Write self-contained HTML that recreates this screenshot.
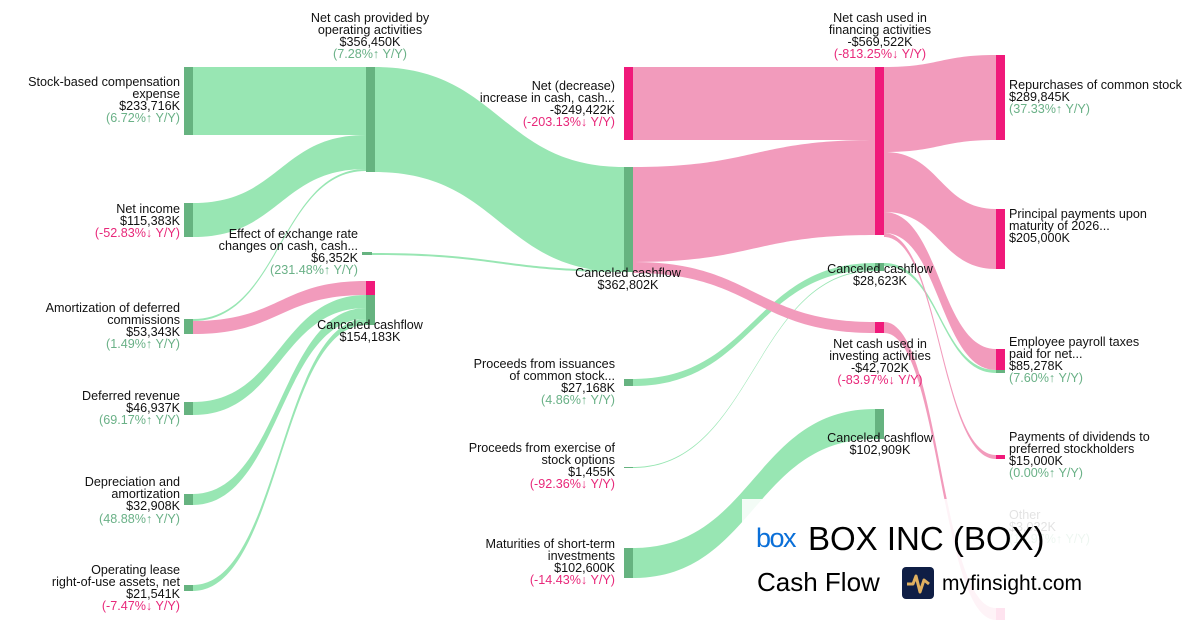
<!DOCTYPE html>
<html><head><meta charset="utf-8"><style>
html,body{margin:0;padding:0;background:#fff;}
svg{display:block;font-family:"Liberation Sans",Arial,sans-serif;}
text{font-size:12.6px;fill:#111;}
.g{fill:#6ab187;}
.p{fill:#e8287a;}
.m{text-anchor:middle;}
.e{text-anchor:end;}
</style></head><body>
<svg width="1200" height="630" viewBox="0 0 1200 630" xmlns="http://www.w3.org/2000/svg">
<g fill="#98e6b3">
<path d="M193,67 L366,67 L366,135 L193,135Z"/>
<path d="M193,203 C280,203 280,135 366,135 L366,169 C280,169 280,237 193,237Z"/>
<path d="M193,319 C280,319 280,169 366,169 L366,171 C280,171 280,321 193,321Z"/>
<path d="M193,402 C280,402 280,295 366,295 L366,308 C280,308 280,415 193,415Z"/>
<path d="M193,494 C280,494 280,308 366,308 L366,319 C280,319 280,505 193,505Z"/>
<path d="M193,585 C280,585 280,319 366,319 L366,325 C280,325 280,591 193,591Z"/>
<path d="M375,67 C500,67 500,167 624,167 L624,272 C500,272 500,172 375,172Z"/>
<path d="M372,253 C500,253 500,270 624,270 L624,272 C500,272 500,255 372,255Z"/>
<path d="M633,379 C754,379 754,263 875,263 L875,270 C754,270 754,386 633,386Z"/>
<path d="M633,467 C754,467 754,270 875,270 L875,271 C754,271 754,468 633,468Z"/>
<path d="M633,548 C754,548 754,409 875,409 L875,439 C754,439 754,578 633,578Z"/>
<path d="M884,263 C940,263 940,370 996,370 L996,373 C940,373 940,266 884,266Z"/>
</g>
<g fill="#f29bbc">
<path d="M193,321 C280,321 280,281 366,281 L366,295 C280,295 280,334 193,334Z"/>
<path d="M633,67 L875,67 L875,140 L633,140Z"/>
<path d="M633,167 C754,167 754,140 875,140 L875,235 C754,235 754,262 633,262Z"/>
<path d="M633,262 C754,262 754,322 875,322 L875,333 C754,333 754,273 633,273Z"/>
<path d="M884,67 C940,67 940,55 996,55 L996,140 C940,140 940,152 884,152Z"/>
<path d="M884,152 C940,152 940,209 996,209 L996,269 C940,269 940,212 884,212Z"/>
<path d="M884,212 C940,212 940,349 996,349 L996,370 C940,370 940,233 884,233Z"/>
<path d="M884,233 C940,233 940,455 996,455 L996,459 C940,459 940,237 884,237Z"/>
<path d="M884,322 C940,322 940,608 996,608 L996,620 C940,620 940,333 884,333Z"/>
</g>
<g fill="#66b380">
<rect x="184" y="67" width="9" height="68"/>
<rect x="184" y="203" width="9" height="34"/>
<rect x="184" y="319" width="9" height="15"/>
<rect x="184" y="402" width="9" height="13"/>
<rect x="184" y="494" width="9" height="11"/>
<rect x="184" y="585" width="9" height="6"/>
<rect x="366" y="67" width="9" height="105"/>
<rect x="362" y="252" width="10" height="3"/>
<rect x="366" y="295" width="9" height="30"/>
<rect x="624" y="167" width="9" height="105"/>
<rect x="624" y="379" width="9" height="7"/>
<rect x="624" y="467" width="9" height="1"/>
<rect x="624" y="548" width="9" height="30"/>
<rect x="875" y="263" width="9" height="8"/>
<rect x="875" y="409" width="9" height="30"/>
<rect x="996" y="370" width="9" height="3"/>
</g>
<g fill="#f0197a">
<rect x="366" y="281" width="9" height="14"/>
<rect x="624" y="67" width="9" height="73"/>
<rect x="875" y="67" width="9" height="168"/>
<rect x="875" y="322" width="9" height="11"/>
<rect x="996" y="55" width="9" height="85"/>
<rect x="996" y="209" width="9" height="60"/>
<rect x="996" y="349" width="9" height="21"/>
<rect x="996" y="455" width="9" height="4"/>
<rect x="996" y="608" width="9" height="12"/>
</g>
<g class="e">
<text x="180" y="86">Stock-based compensation</text><text x="180" y="98">expense</text><text x="180" y="110">$233,716K</text><text x="180" y="122" class="g">(6.72%↑ Y/Y)</text>
<text x="180" y="213">Net income</text><text x="180" y="225">$115,383K</text><text x="180" y="237" class="p">(-52.83%↓ Y/Y)</text>
<text x="180" y="312">Amortization of deferred</text><text x="180" y="324">commissions</text><text x="180" y="336">$53,343K</text><text x="180" y="348" class="g">(1.49%↑ Y/Y)</text>
<text x="180" y="400">Deferred revenue</text><text x="180" y="412">$46,937K</text><text x="180" y="424" class="g">(69.17%↑ Y/Y)</text>
<text x="180" y="486">Depreciation and</text><text x="180" y="498">amortization</text><text x="180" y="510">$32,908K</text><text x="180" y="523" class="g">(48.88%↑ Y/Y)</text>
<text x="180" y="574">Operating lease</text><text x="180" y="586">right-of-use assets, net</text><text x="180" y="598">$21,541K</text><text x="180" y="610" class="p">(-7.47%↓ Y/Y)</text>
<text x="358" y="238">Effect of exchange rate</text><text x="358" y="250">changes on cash, cash...</text><text x="358" y="262">$6,352K</text><text x="358" y="274" class="g">(231.48%↑ Y/Y)</text>
<text x="615" y="90">Net (decrease)</text><text x="615" y="102">increase in cash, cash...</text><text x="615" y="114">-$249,422K</text><text x="615" y="126" class="p">(-203.13%↓ Y/Y)</text>
<text x="615" y="368">Proceeds from issuances</text><text x="615" y="380">of common stock...</text><text x="615" y="392">$27,168K</text><text x="615" y="404" class="g">(4.86%↑ Y/Y)</text>
<text x="615" y="452">Proceeds from exercise of</text><text x="615" y="464">stock options</text><text x="615" y="476">$1,455K</text><text x="615" y="488" class="p">(-92.36%↓ Y/Y)</text>
<text x="615" y="548">Maturities of short-term</text><text x="615" y="560">investments</text><text x="615" y="572">$102,600K</text><text x="615" y="584" class="p">(-14.43%↓ Y/Y)</text>
</g>
<g class="m">
<text x="370" y="22">Net cash provided by</text><text x="370" y="34">operating activities</text><text x="370" y="46">$356,450K</text><text x="370" y="58" class="g">(7.28%↑ Y/Y)</text>
<text x="370" y="329">Canceled cashflow</text><text x="370" y="341">$154,183K</text>
<text x="628" y="277">Canceled cashflow</text><text x="628" y="289">$362,802K</text>
<text x="880" y="22">Net cash used in</text><text x="880" y="34">financing activities</text><text x="880" y="46">-$569,522K</text><text x="880" y="58" class="p">(-813.25%↓ Y/Y)</text>
<text x="880" y="273">Canceled cashflow</text><text x="880" y="285">$28,623K</text>
<text x="880" y="348">Net cash used in</text><text x="880" y="360">investing activities</text><text x="880" y="372">-$42,702K</text><text x="880" y="384" class="p">(-83.97%↓ Y/Y)</text>
<text x="880" y="442">Canceled cashflow</text><text x="880" y="454">$102,909K</text>
</g>
<g>
<text x="1009" y="89">Repurchases of common stock</text><text x="1009" y="101">$289,845K</text><text x="1009" y="113" class="g">(37.33%↑ Y/Y)</text>
<text x="1009" y="218">Principal payments upon</text><text x="1009" y="230">maturity of 2026...</text><text x="1009" y="242">$205,000K</text>
<text x="1009" y="346">Employee payroll taxes</text><text x="1009" y="358">paid for net...</text><text x="1009" y="370">$85,278K</text><text x="1009" y="382" class="g">(7.60%↑ Y/Y)</text>
<text x="1009" y="441">Payments of dividends to</text><text x="1009" y="453">preferred stockholders</text><text x="1009" y="465">$15,000K</text><text x="1009" y="477" class="g">(0.00%↑ Y/Y)</text>
<text x="1009" y="519">Other</text><text x="1009" y="531">$3,022K</text><text x="1009" y="543" class="g">(15.97%↑ Y/Y)</text>
</g>
<rect x="742" y="499" width="458" height="131" fill="#fff" fill-opacity="0.88"/>
<text x="756" y="547" style="font-size:27px;fill:#0a6fd8;letter-spacing:-1.5px">box</text>
<text x="808" y="550" style="font-size:33px;fill:#000">BOX INC (BOX)</text>
<text x="757" y="591" style="font-size:26px;fill:#000">Cash Flow</text>
<rect x="902" y="567" width="32" height="32" rx="4" fill="#0f1e45"/>
<path d="M907,584 L913,584 L916,576 L920,592 L924,580 L929,584" stroke="#e0b060" stroke-width="3" fill="none" stroke-linejoin="round"/>
<text x="942" y="590" style="font-size:21px;fill:#000">myfinsight.com</text>
</svg>
</body></html>
